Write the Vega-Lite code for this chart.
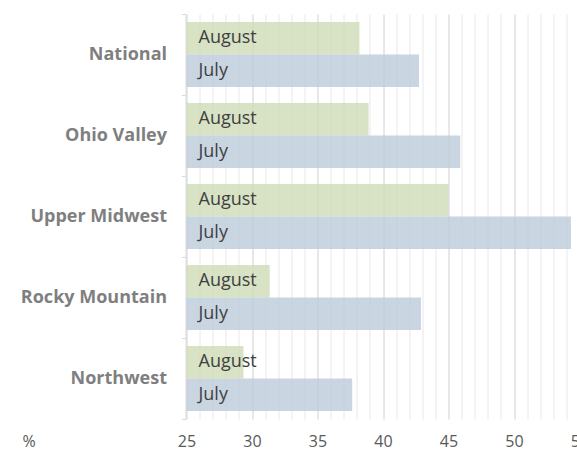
{
  "$schema": "https://vega.github.io/schema/vega-lite/v6.json",
  "width": 393,
  "height": 405,
  "autosize": "none",
  "padding": {"left": 186.5, "top": 14, "right": -2.5, "bottom": 33},
  "config": {"view": {"stroke": null}},
  "data": {
    "values": [
      {"region": "National", "month": "August", "value": 38.2},
      {"region": "National", "month": "July", "value": 42.75},
      {"region": "Ohio Valley", "month": "August", "value": 38.9},
      {"region": "Ohio Valley", "month": "July", "value": 45.9},
      {"region": "Upper Midwest", "month": "August", "value": 45.0},
      {"region": "Upper Midwest", "month": "July", "value": 54.35},
      {"region": "Rocky Mountain", "month": "August", "value": 31.35},
      {"region": "Rocky Mountain", "month": "July", "value": 42.9},
      {"region": "Northwest", "month": "August", "value": 29.35},
      {"region": "Northwest", "month": "July", "value": 37.65}
    ]
  },
  "encoding": {
    "y": {
      "field": "region",
      "type": "nominal",
      "sort": ["National", "Ohio Valley", "Upper Midwest", "Rocky Mountain", "Northwest"],
      "scale": {"paddingInner": 0, "paddingOuter": 0},
      "axis": {
        "title": null,
        "tickBand": "extent",
        "domainColor": "#d9d9d9",
        "tickColor": "#d9d9d9",
        "tickSize": 4,
        "offset": 1,
        "labelPadding": 15,
        "labelFont": "Open Sans",
        "labelFontWeight": "bold",
        "labelFontSize": 18,
        "labelColor": "#7f7f7f"
      }
    },
    "yOffset": {
      "field": "month",
      "type": "nominal",
      "sort": ["August", "July"],
      "scale": {"paddingInner": 0, "paddingOuter": 0.246}
    }
  },
  "layer": [
    {
      "mark": {"type": "bar", "fillOpacity": 0.8},
      "encoding": {
        "x": {
          "field": "value",
          "type": "quantitative",
          "scale": {"domain": [25, 55], "zero": false, "nice": false},
          "axis": {
            "values": [25,26,27,28,29,30,31,32,33,34,35,36,37,38,39,40,41,42,43,44,45,46,47,48,49,50,51,52,53,54,55],
            "tickCount": 100,
            "format": "d",
            "grid": true,
            "gridColor": {"condition": {"test": "datum.value % 5 === 0", "value": "#d0d0d0"}, "value": "#e8e8e8"},
            "domain": false,
            "ticks": false,
            "labelOverlap": false,
            "labelFlush": false,
            "labelExpr": "datum.value % 5 === 0 ? datum.label : ''",
            "labelFont": "Open Sans",
            "labelFontSize": 16,
            "labelColor": "#595959",
            "labelPadding": 14,
            "title": "%",
            "titleFont": "Open Sans",
            "titleFontSize": 16,
            "titleFontWeight": "normal",
            "titleColor": "#595959",
            "titleX": -158,
            "titleY": 14,
            "titleAlign": "center",
            "titleBaseline": "top"
          }
        },
        "x2": {"datum": 25},
        "color": {
          "field": "month",
          "type": "nominal",
          "scale": {"domain": ["August", "July"], "range": ["#cddcb5", "#bdcadb"]},
          "legend": null
        }
      }
    },
    {
      "mark": {"type": "text", "align": "left", "baseline": "middle", "dx": 12, "font": "Open Sans", "fontSize": 18, "color": "#404040"},
      "encoding": {
        "x": {"datum": 25},
        "text": {"field": "month", "type": "nominal"}
      }
    }
  ]
}
